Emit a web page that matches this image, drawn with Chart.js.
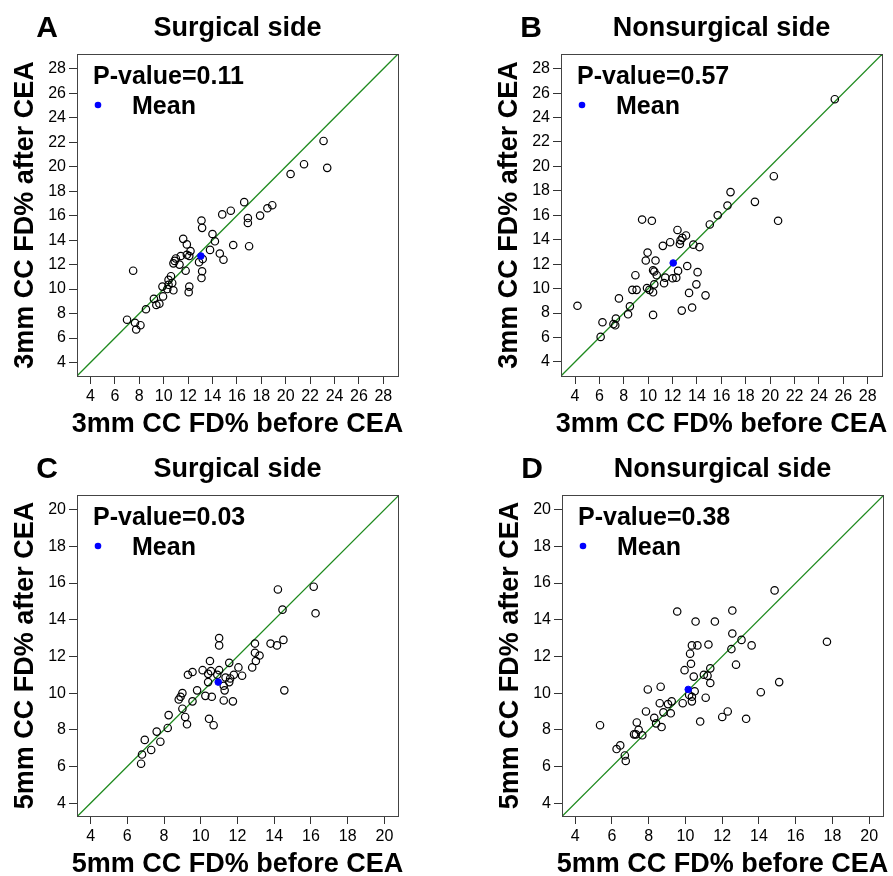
<!DOCTYPE html>
<html>
<head>
<meta charset="utf-8">
<script src="https://cdn.jsdelivr.net/npm/chart.js@4.4.1/dist/chart.umd.min.js"></script>
<style>
  body { margin: 0; background: #fff; width: 893px; height: 876px; position: relative; overflow: hidden; }
  canvas { position: absolute; }
</style>
</head>
<body>
<canvas id="chartA" width="446" height="438" style="left:0;top:0"></canvas>
<canvas id="chartB" width="447" height="438" style="left:446px;top:0"></canvas>
<canvas id="chartC" width="446" height="438" style="left:0;top:438px"></canvas>
<canvas id="chartD" width="447" height="438" style="left:446px;top:438px"></canvas>
<script>
// tick labels
const ticks3mm = [4, 6, 8, 10, 12, 14, 16, 18, 20, 22, 24, 26, 28];
const ticks5mm = [4, 6, 8, 10, 12, 14, 16, 18, 20];

// A: 3mm, surgical side (before, after)
const surg3Before = [23.1, 21.5, 23.4, 20.4, 16.6, 18.9, 18.5, 15.5, 14.8, 17.9, 16.9, 16.9, 13.1, 13.15, 14.0,
  11.6, 14.2, 11.9, 15.7, 17.0, 12.2, 13.8, 11.9, 11.4, 12.1, 11.0, 10.9, 10.8, 11.3, 14.6, 14.9, 12.9, 13.2,
  7.5, 11.8, 13.15, 13.1, 10.6, 10.4, 10.7, 10.4, 9.9, 10.3, 10.8, 12.1, 12.05, 9.2, 9.95, 9.4, 9.65, 8.55,
  7.0, 7.65, 8.1, 7.75];
const surg3After = [22.1, 20.2, 19.9, 19.4, 17.1, 16.85, 16.6, 16.4, 16.1, 16.0, 15.8, 15.4, 15.6, 15.0, 14.5,
  14.1, 13.9, 13.65, 13.6, 13.5, 13.1, 13.2, 12.8, 12.7, 12.7, 12.5, 12.3, 12.1, 12.0, 12.9, 12.4, 12.2, 12.45,
  11.5, 11.5, 11.45, 10.9, 11.05, 10.75, 10.5, 10.35, 10.2, 10.0, 9.9, 10.2, 9.75, 9.2, 9.4, 8.7, 8.8, 8.35,
  7.5, 7.25, 7.05, 6.7];
const surg3Mean = [13.05, 12.7];

// B: 3mm, nonsurgical side
const nons3Before = [25.3, 20.3, 18.75, 16.75, 16.5, 20.65, 15.7, 15.05, 9.5, 10.3, 12.4, 13.1, 12.8, 12.65,
  12.6, 11.8, 11.2, 13.7, 14.2, 9.95, 9.8, 10.6, 13.2, 10.4, 10.5, 12.45, 14.05, 8.95, 10.7, 11.4, 12.0, 12.3,
  10.5, 11.3, 13.95, 8.7, 9.05, 9.9, 10.1, 10.4, 13.35, 14.7, 7.6, 4.2, 8.5, 8.35, 10.4, 12.75, 13.6, 7.35,
  6.25, 7.15, 7.3, 6.1];
const nons3After = [25.5, 19.2, 17.1, 17.9, 16.8, 15.55, 16.0, 15.25, 15.65, 15.55, 14.8, 14.35, 14.15, 13.95,
  13.65, 13.8, 13.5, 13.6, 13.4, 12.95, 12.3, 12.3, 11.85, 11.5, 11.4, 11.45, 11.35, 11.1, 11.1, 10.9, 10.85,
  10.9, 10.35, 10.45, 10.35, 9.9, 9.9, 10.05, 9.9, 9.7, 9.65, 9.45, 9.2, 8.6, 8.55, 7.9, 7.85, 8.2, 8.45,
  7.55, 7.25, 7.1, 7.0, 6.05];
const nons3Mean = [12.05, 12.1];

// C: 5mm, surgical side
const surg5Before = [16.15, 14.2, 14.45, 16.25, 11.0, 11.0, 14.5, 12.95, 13.8, 14.15, 12.95, 13.2, 13.0, 12.8,
  10.5, 11.55, 12.05, 12.25, 11.8, 11.6, 11.55, 11.35, 11.0, 10.55, 10.1, 10.4, 9.55, 9.3, 10.9, 10.4, 11.25,
  11.3, 9.8, 10.25, 10.6, 11.25, 11.75, 9.55, 9.0, 8.9, 8.8, 14.55, 9.0, 9.15, 9.25, 10.45, 10.7, 8.25, 8.2,
  7.6, 6.95, 7.8, 7.3, 6.8, 6.75];
const surg5After = [15.8, 15.65, 14.55, 14.35, 13.0, 12.6, 12.9, 12.7, 12.7, 12.6, 12.2, 12.05, 11.75, 11.4,
  11.75, 11.65, 11.4, 10.95, 11.0, 10.8, 10.6, 10.85, 11.25, 11.2, 11.25, 11.05, 11.15, 11.0, 11.0, 10.6, 10.4,
  10.15, 10.15, 9.85, 9.8, 9.6, 9.55, 9.55, 10.0, 9.8, 9.65, 10.15, 9.15, 8.7, 8.3, 8.6, 8.25, 8.8, 8.1, 7.9,
  7.45, 7.35, 6.9, 6.65, 6.15];
const surg5Mean = [10.95, 10.6];

// D: 5mm, nonsurgical side
const nons5Before = [14.85, 12.55, 9.55, 10.55, 11.6, 12.55, 13.05, 13.6, 17.7, 10.35, 10.65, 11.25, 12.5, 10.25,
  10.3, 12.75, 9.95, 11.35, 11.0, 11.2, 10.45, 11.35, 15.1, 14.1, 7.95, 8.65, 10.5, 10.2, 10.35, 10.35, 9.85,
  11.1, 9.25, 9.05, 8.6, 9.2, 8.8, 7.85, 8.3, 8.4, 8.7, 10.8, 12.0, 12.3, 13.3, 5.35, 7.35, 7.45, 7.2, 7.3,
  7.65, 6.25, 6.45, 6.7, 6.75];
const nons5After = [15.6, 14.5, 14.45, 13.9, 13.9, 13.25, 12.9, 12.6, 12.8, 12.6, 12.6, 12.65, 12.4, 12.15,
  11.6, 11.55, 11.25, 11.35, 11.0, 10.95, 10.9, 10.55, 10.6, 10.05, 10.2, 10.35, 10.1, 9.9, 9.8, 9.55, 9.45,
  9.75, 9.55, 9.4, 9.45, 8.9, 8.95, 9.0, 8.65, 8.35, 8.15, 8.45, 8.7, 9.0, 8.6, 8.25, 8.4, 8.0, 7.75, 7.75,
  7.7, 6.95, 7.15, 6.6, 6.3];
const nons5Mean = [10.15, 10.2];

const FONT = "'Liberation Sans', Arial, Helvetica, sans-serif";

// box = plot frame in page pixels, origin = canvas position
const panels = [
  { id: 'chartA', letter: 'A', title: 'Surgical side', pval: 'P-value=0.11', before: surg3Before, after: surg3After,
    mean: surg3Mean, ticks: ticks3mm, xr: [2.9, 29.2], yr: [2.9, 29.2], size: '3mm',
    origin: [0, 0, 446, 438], box: [77, 54, 398, 376] },
  { id: 'chartB', letter: 'B', title: 'Nonsurgical side', pval: 'P-value=0.57', before: nons3Before, after: nons3After,
    mean: nons3Mean, ticks: ticks3mm, xr: [2.85, 29.17], yr: [2.85, 29.2], size: '3mm',
    origin: [446, 0, 447, 438], box: [561, 54, 882, 376] },
  { id: 'chartC', letter: 'C', title: 'Surgical side', pval: 'P-value=0.03', before: surg5Before, after: surg5After,
    mean: surg5Mean, ticks: ticks5mm, xr: [3.26, 20.74], yr: [3.3, 20.8], size: '5mm',
    origin: [0, 438, 446, 438], box: [77, 495, 398, 816] },
  { id: 'chartD', letter: 'D', title: 'Nonsurgical side', pval: 'P-value=0.38', before: nons5Before, after: nons5After,
    mean: nons5Mean, ticks: ticks5mm, xr: [3.28, 20.75], yr: [3.3, 20.8], size: '5mm',
    origin: [446, 438, 447, 438], box: [562, 495, 883, 816] }
];

const decorPlugin = {
  id: 'decor',
  afterDraw(chart) {
    const p = chart.options.plugins.decor.panel;
    const ctx = chart.ctx;
    const a = chart.chartArea;
    ctx.save();
    // frame
    ctx.strokeStyle = '#444';
    ctx.lineWidth = 1;
    ctx.strokeRect(Math.round(a.left) + 0.5, Math.round(a.top) + 0.5, Math.round(a.width), Math.round(a.height));
    ctx.fillStyle = '#000';
    ctx.textBaseline = 'alphabetic';
    // panel letter + title
    ctx.font = 'bold 30px ' + FONT;
    ctx.textAlign = 'center';
    ctx.fillText(p.letter, a.left - 30, a.top - 17);
    ctx.font = 'bold 27px ' + FONT;
    ctx.fillText(p.title, (a.left + a.right) / 2, a.top - 18);
    // axis titles
    ctx.fillText(p.size + ' CC FD% before CEA', (a.left + a.right) / 2, a.bottom + 56);
    ctx.save();
    ctx.translate(a.left - 44, (a.top + a.bottom) / 2);
    ctx.rotate(-Math.PI / 2);
    ctx.fillText(p.size + ' CC FD% after CEA', 0, 0);
    ctx.restore();
    // legend
    ctx.textAlign = 'left';
    ctx.font = 'bold 25px ' + FONT;
    ctx.fillText(p.pval, a.left + 16, a.top + 30);
    ctx.fillText('Mean', a.left + 55, a.top + 60);
    ctx.fillStyle = '#0000ff';
    ctx.beginPath();
    ctx.arc(a.left + 21, a.top + 51, 3.3, 0, Math.PI * 2);
    ctx.fill();
    ctx.restore();
  }
};

panels.forEach(p => {
  const [ox, oy, w, h] = p.origin;
  const [bl, bt, br, bb] = p.box;
  const points = p.before.map((v, i) => ({ x: v, y: p.after[i] }));
  const lo = Math.min(p.xr[0], p.yr[0]);
  const hi = Math.max(p.xr[1], p.yr[1]);
  const axis = (range, afterFit) => ({
    type: 'linear',
    min: range[0],
    max: range[1],
    afterFit: afterFit,
    afterBuildTicks: s => { s.ticks = p.ticks.map(v => ({ value: v })); },
    border: { display: false },
    grid: { drawOnChartArea: false, drawTicks: true, tickLength: 8, color: '#333', lineWidth: 1 },
    ticks: { color: '#000', font: { family: FONT, size: 16 }, padding: 3, maxRotation: 0, autoSkip: false }
  });
  new Chart(document.getElementById(p.id), {
    data: {
      datasets: [
        { type: 'line', data: [{ x: lo, y: lo }, { x: hi, y: hi }], borderColor: '#1e8a1e', borderWidth: 1.3,
          pointRadius: 0, order: 3 },
        { type: 'scatter', data: points, pointRadius: 3.7, pointBorderWidth: 1.2, borderColor: '#000',
          backgroundColor: 'rgba(0,0,0,0)', order: 2 },
        { type: 'scatter', data: [{ x: p.mean[0], y: p.mean[1] }], pointRadius: 3.3, borderColor: '#0000ff',
          backgroundColor: '#0000ff', order: 1 }
      ]
    },
    options: {
      responsive: false,
      animation: false,
      layout: { padding: { left: 0, top: bt - oy, right: ox + w - br, bottom: 0 } },
      plugins: { legend: { display: false }, tooltip: { enabled: false }, decor: { panel: p } },
      scales: {
        x: axis(p.xr, s => { s.height = oy + h - bb; }),
        y: axis(p.yr, s => { s.width = bl - ox; })
      }
    },
    plugins: [decorPlugin]
  });
});
</script>
</body>
</html>
